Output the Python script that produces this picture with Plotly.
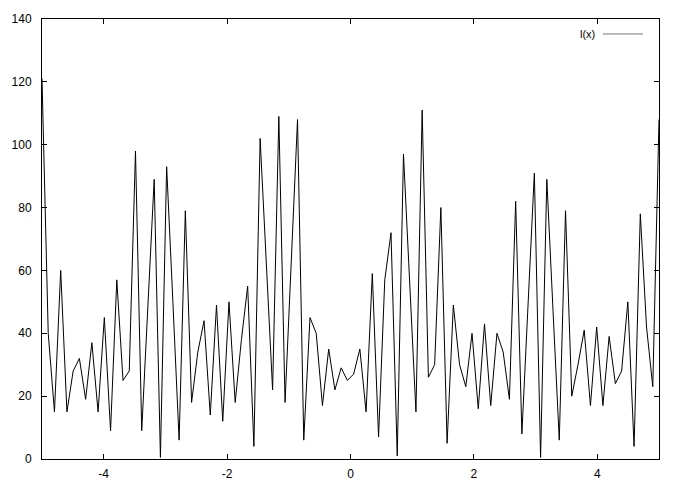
import numpy as np
import plotly.graph_objects as go

# sampled function l(x): 100 samples on [-5, 5]
x_min, x_max, n_samples = -5, 5, 100
l_values = [
    121, 40, 15, 60, 15, 28, 32, 19, 37, 15,
    45, 9, 57, 25, 28, 98, 9, 49, 89, 0.5,
    93, 50, 6, 79, 18, 34, 44, 14, 49, 12,
    50, 18, 38, 55, 4, 102, 60, 22, 109, 18,
    63, 108, 6, 45, 40, 17, 35, 22, 29, 25,
    27, 35, 15, 59, 7, 57, 72, 1, 97, 55,
    15, 111, 26, 30, 80, 5, 49, 30, 23, 40,
    16, 43, 17, 40, 34, 19, 82, 8, 50, 91,
    0.5, 89, 47, 6, 79, 20, 30, 41, 17, 42,
    17, 39, 24, 28, 50, 4, 78, 42, 23, 108,
]
x_values = np.linspace(x_min, x_max, n_samples)
series_name = "l(x)"
x_ticks = [-4, -2, 0, 2, 4]
y_ticks = [0, 20, 40, 60, 80, 100, 120, 140]

FONT = "Liberation Sans, Arial, Helvetica, sans-serif"

fig = go.Figure()
fig.add_trace(go.Scatter(x=x_values, y=l_values, mode="lines",
                         line=dict(color="black", width=1), name=series_name,
                         showlegend=False))

axis_common = dict(showline=True, linecolor="black", linewidth=1, mirror="allticks",
                   ticks="inside", ticklen=5, tickcolor="black", showgrid=False,
                   zeroline=False, tickfont=dict(family=FONT, size=12, color="black"))

fig.update_xaxes(range=[x_min, x_max], tickvals=x_ticks, ticktext=[str(t) for t in x_ticks],
                 ticklabelstandoff=4, **axis_common)
fig.update_yaxes(range=[0, 140], tickvals=y_ticks, ticktext=[str(t) for t in y_ticks],
                 ticklabelstandoff=7, **axis_common)

# gnuplot-style key: text then line sample
fig.add_annotation(xref="paper", yref="paper", x=0.899, y=0.966, text=series_name,
                   showarrow=False, xanchor="right", yanchor="middle",
                   font=dict(family=FONT, size=11, color="black"))
fig.add_shape(type="line", xref="paper", yref="paper", x0=0.909, x1=0.974, y0=0.966, y1=0.966,
              line=dict(color="#777777", width=1))

fig.update_layout(width=683, height=493, margin=dict(l=41, r=24, t=15, b=33),
                  plot_bgcolor="white", paper_bgcolor="white",
                  font=dict(family=FONT, size=12, color="black"))
fig.write_html("out.html", config={"displayModeBar": False},
               post_script="document.body.style.margin='0';document.body.style.padding='0';")
